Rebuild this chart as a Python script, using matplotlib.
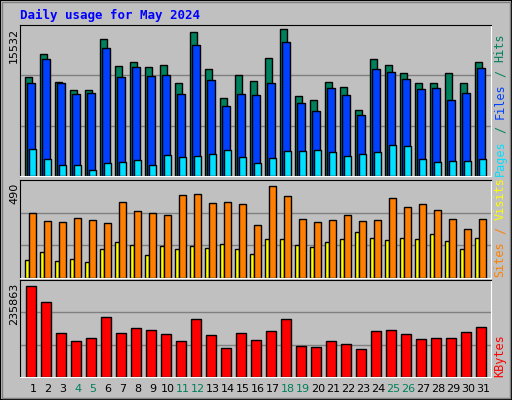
import matplotlib
matplotlib.use("Agg")
import matplotlib.pyplot as plt
from matplotlib.patches import Rectangle

days = list(range(1, 32))
weekend = [4, 5, 11, 12, 18, 19, 25, 26]
hits = [10520, 12880, 9920, 9070, 9070, 14470, 11610, 12040, 11510, 11720, 9810, 15210, 11300, 8220, 10660, 10030, 12460, 15532, 8440, 8010, 9920, 9390, 6950, 12360, 11720, 10870, 9810, 9810, 10870, 9810, 12040]
files = [9810, 12360, 9810, 8650, 8750, 13520, 10450, 11510, 10550, 10660, 8650, 13840, 10130, 7380, 8650, 8540, 9810, 14160, 7700, 6850, 9280, 8540, 6420, 11300, 10980, 10240, 9180, 9280, 8010, 8750, 11400]
pages = [2820, 1770, 1130, 1130, 600, 1340, 1450, 1660, 1130, 2190, 1980, 2080, 2290, 2720, 1980, 1340, 1870, 2610, 2610, 2720, 2510, 2080, 2290, 2510, 3250, 3140, 1770, 1450, 1550, 1550, 1770]
visits = [346, 304, 298, 320, 309, 293, 405, 357, 346, 335, 442, 447, 400, 405, 394, 281, 490, 437, 314, 298, 309, 335, 304, 309, 426, 378, 394, 362, 314, 261, 314]
sites = [96, 138, 91, 101, 85, 155, 192, 176, 123, 170, 155, 170, 160, 181, 155, 128, 208, 208, 176, 165, 192, 208, 245, 213, 202, 213, 208, 234, 197, 155, 213]
kbytes = [235863, 194500, 114200, 93600, 101300, 155400, 114200, 127100, 121900, 111600, 93600, 150200, 109000, 75500, 114200, 96200, 119300, 150200, 80700, 78100, 93600, 85800, 72900, 119300, 121900, 111600, 98700, 101300, 101300, 116800, 129700]

BG = "#c0c0c0"
fig = plt.figure(figsize=(5.12, 4.0), dpi=100, facecolor=BG)
fig.patches.append(Rectangle((0, 0), 1, 1, transform=fig.transFigure, fill=False, edgecolor="black", lw=1.5))
fig.patches.append(Rectangle((0.003, 0.004), 0.994, 0.992, transform=fig.transFigure, fill=False, edgecolor="#808080", lw=1))

def mkax(y0, y1):
    ax = fig.add_axes([20/512, 1-y1/400, 471/512, (y1-y0)/400])
    ax.set_facecolor(BG)
    ax.set_xlim(0.133, 31.533)
    for s in ax.spines.values():
        s.set_color("black")
    ax.spines["right"].set_color("white")
    ax.spines["bottom"].set_color("white")
    ax.set_xticks([]); ax.set_yticks([])
    return ax

def grid(ax, top):
    for f in (1/3, 2/3):
        ax.axhline(top*f, color="#808080", lw=1, zorder=0)

ekw = dict(edgecolor="black", linewidth=1, align="edge")
ax1 = mkax(25, 176)
t1 = 15532*151/146.7
ax1.set_ylim(0, t1); grid(ax1, t1)
ax1.bar([d-0.51 for d in days], hits, width=0.46, color="#00805c", **ekw)
ax1.bar([d-0.38 for d in days], files, width=0.48, color="#0040ff", **ekw)
ax1.bar([d-0.25 for d in days], pages, width=0.46, color="#00e0ff", **ekw)

ax2 = mkax(180, 278)
t2 = 490*98/92
ax2.set_ylim(0, t2); grid(ax2, t2)
ax2.bar([d-0.51 for d in days], sites, width=0.26, color="#ffff00", **ekw)
ax2.bar([d-0.25 for d in days], visits, width=0.46, color="#ff8000", **ekw)

ax3 = mkax(280, 377)
t3 = 235863*97/91
ax3.set_ylim(0, t3); grid(ax3, t3)
ax3.bar([d-0.45 for d in days], kbytes, width=0.66, color="#ff0000", **ekw)
ax3.set_xticks(days)
ax3.set_xticklabels([str(d) for d in days], fontsize=8, family="DejaVu Sans")
ax3.tick_params(axis="x", length=0, pad=5)
for lbl, d in zip(ax3.get_xticklabels(), days):
    lbl.set_color("#00805c" if d in weekend else "black")

fig.text(20/512, 1-15/400, "Daily usage for May 2024", color="#0000ff", fontsize=9,
         family="DejaVu Sans Mono", fontweight="bold", va="center", ha="left")
for y, s in ((25, "15532"), (180, "490"), (280, "235863")):
    fig.text(14/512, 1-(y+3)/400, s, rotation=90, fontsize=8, va="top", ha="center")

FS = 8.5
STEP = 0.602 * FS * 100 / 72

def rlabel(ybot, parts):
    y = ybot
    for txt, col in parts:
        n = len(txt)
        s = txt.strip()
        lead = len(txt) - len(txt.lstrip())
        if s:
            fig.text(500/512, 1-(y - lead*STEP)/400, s, rotation=90, color=col, fontsize=FS,
                     family="DejaVu Sans Mono", va="bottom", ha="center")
        y -= n*STEP

rlabel(176, [("Pages", "#00e0ff"), (" / ", "#00805c"), ("Files", "#0040ff"), (" / ", "#00805c"), ("Hits", "#00805c")])
rlabel(277, [("Sites", "#ff8000"), (" / ", "#ff8000"), ("Visits", "#ffff00")])
rlabel(377, [("KBytes", "#ff0000")])

fig.savefig("out.png", dpi=100, facecolor=BG)
